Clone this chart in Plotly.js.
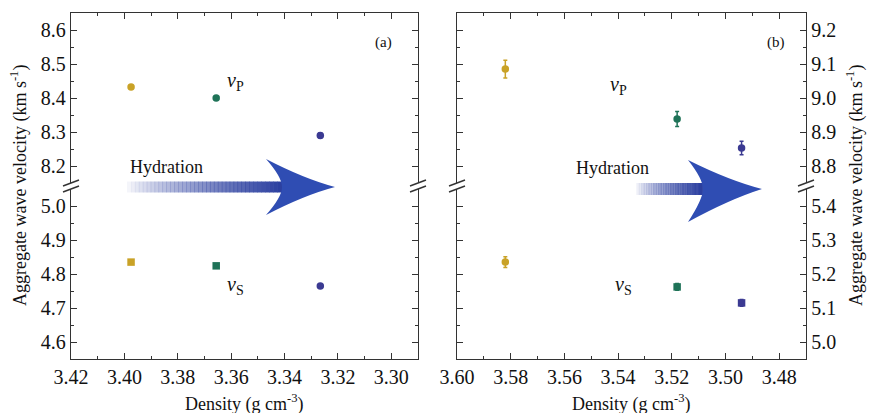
<!DOCTYPE html>
<html>
<head>
<meta charset="utf-8">
<script src="https://cdn.plot.ly/plotly-3.0.1.min.js"></script>
<style>html,body{margin:0;padding:0;background:#fff;}#chart{width:870px;height:413px;}</style>
</head>
<body>
<div id="chart"></div>
<script>
// ---------- data ----------
const sampleColors = ['#c9a227', '#1f7358', '#3b3a92'];

// panel (a)
const densityA = [3.3975, 3.3656, 3.3266];
const vpA      = [8.432, 8.400, 8.290];
const vpErrA   = [0.006, 0.006, 0.008];
const vsA      = [4.835, 4.824, 4.765];
const vsErrA   = [0.004, 0.004, 0.004];
const vsSymA   = ['square', 'square', 'circle'];

// panel (b)
const densityB = [3.582, 3.518, 3.494];
const vpB      = [9.085, 8.938, 8.853];
const vpErrB   = [0.026, 0.022, 0.020];
const vsB      = [5.235, 5.162, 5.115];
const vsErrB   = [0.016, 0.010, 0.010];
const vsSymB   = ['circle', 'square', 'square'];

// axis ranges
const xRangeA = [3.42, 3.29];
const xRangeB = [3.60, 3.47];
const yTopA = [8.15, 8.65], yBotA = [4.55, 5.05];
const yTopB = [8.75, 9.25], yBotB = [4.95, 5.45];

// ---------- geometry helpers (pixel -> paper) ----------
const W = 870, H = 413;
const px = x => x / W;
const py = y => 1 - y / H;

const FONT = 'Liberation Serif';
const AX = '#333333';

const traces = [];
function addPoints(dens, vals, errs, syms, xa, ya) {
  for (let i = 0; i < dens.length; i++) {
    traces.push({
      type: 'scatter', mode: 'markers',
      x: [dens[i]], y: [vals[i]],
      xaxis: xa, yaxis: ya,
      marker: {color: sampleColors[i], size: 7.5, symbol: syms[i], line: {width: 0}},
      error_y: {type: 'data', array: [errs[i]], visible: true, color: sampleColors[i], thickness: 1.5, width: 2},
      showlegend: false, hoverinfo: 'x+y'
    });
  }
}
addPoints(densityA, vpA, vpErrA, ['circle','circle','circle'], 'x', 'y2');
addPoints(densityA, vsA, vsErrA, vsSymA, 'x', 'y');
addPoints(densityB, vpB, vpErrB, ['circle','circle','circle'], 'x2', 'y4');
addPoints(densityB, vsB, vsErrB, vsSymB, 'x2', 'y3');

// domains
const xDomA = [px(71), px(418)];
const xDomB = [px(457), px(806)];
const yDomTop = [py(183), py(13)];
const yDomBot = [py(359), py(189)];

function xAxis(range, domain, anchor, extra) {
  return Object.assign({
    range: range, domain: domain, anchor: anchor,
    tick0: 3.30, dtick: 0.02, tickformat: '.2f',
    ticks: 'inside', ticklen: 6, tickwidth: 1.2, tickcolor: AX,
    minor: {dtick: 0.01, ticks: 'inside', ticklen: 3, tickwidth: 1, tickcolor: AX},
    showline: true, linecolor: AX, linewidth: 1.4,
    showgrid: false, zeroline: false,
    tickfont: {family: FONT, size: 20, color: '#111'}
  }, extra || {});
}
function yAxis(range, domain, anchor, side) {
  return {
    range: range, domain: domain, anchor: anchor, side: side,
    dtick: 0.1, tick0: 0, tickformat: '.1f',
    ticks: 'inside', ticklen: 6, tickwidth: 1.2, tickcolor: AX,
    minor: {dtick: 0.05, ticks: 'inside', ticklen: 3, tickwidth: 1, tickcolor: AX},
    showline: true, linecolor: AX, linewidth: 1.4, mirror: 'ticks',
    showgrid: false, zeroline: false,
    tickfont: {family: FONT, size: 20, color: '#111'}
  };
}

const shapes = [];
// axis break marks
function breakMark(xpix, ycen) {
  shapes.push({type: 'rect', xref: 'paper', yref: 'paper',
    x0: px(xpix - 3), x1: px(xpix + 3), y0: py(ycen + 3), y1: py(ycen - 3),
    fillcolor: '#fff', line: {width: 0}});
  [-3, 3].forEach(d => {
    shapes.push({type: 'line', xref: 'paper', yref: 'paper',
      x0: px(xpix - 8), y0: py(ycen + d + 3), x1: px(xpix + 8), y1: py(ycen + d - 3),
      line: {color: AX, width: 1.4}});
  });
}
[71, 418, 457, 806].forEach(x => breakMark(x, 186));

// hydration arrows: gradient shaft + solid head
function arrow(xs0, xs1, yc, th, head) {
  const N = 40;
  const step = (xs1 - xs0) / N;
  for (let i = 0; i < N; i++) {
    const t = (i + 1) / N;
    shapes.push({type: 'rect', xref: 'paper', yref: 'paper', layer: 'above',
      x0: px(xs0 + i * step), x1: px(xs0 + (i + 1) * step + 0.5),
      y0: py(yc + th / 2), y1: py(yc - th / 2),
      fillcolor: 'rgba(40,60,158,' + Math.pow(t, 0.8).toFixed(3) + ')', line: {width: 0}});
  }
  const [hx, htop, tip, hbot, notch] = head;
  const p = (x, y) => px(x).toFixed(5) + ',' + py(y).toFixed(5);
  const path = 'M' + p(hx, htop) +
    ' Q' + p((hx + tip) / 2 + 4, (htop + yc) / 2 + 6) + ' ' + p(tip, yc) +
    ' Q' + p((hx + tip) / 2 + 4, (hbot + yc) / 2 - 6) + ' ' + p(hx, hbot) +
    ' Q' + p(notch, yc + 10) + ' ' + p(notch, yc) +
    ' Q' + p(notch, yc - 10) + ' ' + p(hx, htop) + ' Z';
  shapes.push({type: 'path', xref: 'paper', yref: 'paper', layer: 'above',
    path: path, fillcolor: '#2f4db3', line: {width: 0}});
}
arrow(127, 285, 187, 11, [266, 159, 335, 215, 282]);
arrow(636, 704, 189, 12, [688, 160, 762, 222, 703]);

const ann = (text, x, y, size, extra) => Object.assign({
  text: text, xref: 'paper', yref: 'paper', x: px(x), y: py(y),
  showarrow: false, font: {family: FONT, size: size, color: '#111'},
  xanchor: 'center', yanchor: 'middle'
}, extra || {});

const annotations = [
  ann('Aggregate wave velocity (km s<sup>-1</sup>)', 19, 186, 18, {textangle: -90}),
  ann('Aggregate wave velocity (km s<sup>-1</sup>)', 855, 186, 18, {textangle: -90}),
  ann('Density (g cm<sup>-3</sup>)', 244, 403, 18),
  ann('Density (g cm<sup>-3</sup>)', 631, 403, 18),
  ann('(a)', 383, 43, 15),
  ann('(b)', 776, 43, 15),
  ann('Hydration', 166, 167, 18),
  ann('Hydration', 612, 168, 18),
  ann('<i>v</i><sub>P</sub>', 235, 82, 20),
  ann('<i>v</i><sub>S</sub>', 235, 285, 20),
  ann('<i>v</i><sub>P</sub>', 618, 85, 20),
  ann('<i>v</i><sub>S</sub>', 623, 285, 20)
];

const layout = {
  width: W, height: H,
  margin: {l: 0, r: 0, t: 0, b: 0},
  paper_bgcolor: '#fff', plot_bgcolor: 'rgba(0,0,0,0)',
  showlegend: false,
  font: {family: FONT, color: '#111'},
  xaxis: xAxis(xRangeA, xDomA, 'y'),
  xaxis3: xAxis(xRangeA, xDomA, 'y2', {overlaying: 'x', side: 'top', showticklabels: false}),
  xaxis2: xAxis(xRangeB, xDomB, 'y3'),
  xaxis4: xAxis(xRangeB, xDomB, 'y4', {overlaying: 'x2', side: 'top', showticklabels: false}),
  yaxis: yAxis(yBotA, yDomBot, 'x', 'left'),
  yaxis2: yAxis(yTopA, yDomTop, 'x', 'left'),
  yaxis3: yAxis(yBotB, yDomBot, 'x2', 'right'),
  yaxis4: yAxis(yTopB, yDomTop, 'x2', 'right'),
  shapes: shapes,
  annotations: annotations
};

// empty traces so the top mirror axes are drawn
traces.push({type: 'scatter', mode: 'markers', x: [], y: [], xaxis: 'x3', yaxis: 'y2', showlegend: false});
traces.push({type: 'scatter', mode: 'markers', x: [], y: [], xaxis: 'x4', yaxis: 'y4', showlegend: false});

Plotly.newPlot('chart', traces, layout, {displayModeBar: false});
</script>
</body>
</html>
